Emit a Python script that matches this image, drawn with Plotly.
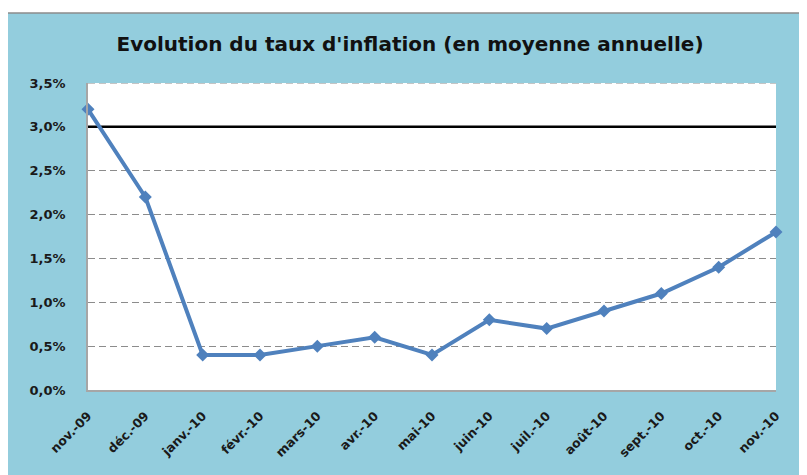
import plotly.graph_objects as go

months = ["nov.-09", "déc.-09", "janv.-10", "févr.-10", "mars-10", "avr.-10", "mai-10",
          "juin-10", "juil.-10", "août-10", "sept.-10", "oct.-10", "nov.-10"]
inflation = [3.2, 2.2, 0.4, 0.4, 0.5, 0.6, 0.4, 0.8, 0.7, 0.9, 1.1, 1.4, 1.8]
target = [3.0] * len(months)
y_tick_values = [0.0, 0.5, 1.0, 1.5, 2.0, 2.5, 3.0, 3.5]
y_tick_labels = ["0,0%", "0,5%", "1,0%", "1,5%", "2,0%", "2,5%", "3,0%", "3,5%"]
title_text = "Evolution du taux d'inflation (en moyenne annuelle)"

# the page body has an 8px default margin, so the figure is sized to fill the rest
OFF = 8
W, H = 807 - OFF, 475 - OFF
ML, MR, MT, MB = 88 - OFF, 31, 83 - OFF, 85
pw, ph = W - ML - MR, H - MT - MB

def px_x(p):
    return (p - OFF - ML) / pw

def px_y(p):
    return (H + OFF - MB - p) / ph

blue = "#93CDDD"
grid_dash = "7px,4px"
fig = go.Figure()

fig.add_trace(go.Scatter(
    x=months, y=target, mode="lines",
    line=dict(color="black", width=2.5),
    hoverinfo="skip", showlegend=False, cliponaxis=False,
))
fig.add_trace(go.Scatter(
    x=months, y=inflation, mode="lines+markers",
    line=dict(color="#4F81BD", width=4),
    marker=dict(symbol="diamond", size=10, color="#4F81BD"),
    showlegend=False, cliponaxis=False,
))

fig.add_shape(type="rect", xref="paper", yref="paper",
              x0=px_x(7), x1=px_x(812), y0=px_y(480), y1=px_y(13),
              fillcolor=blue, line=dict(color="#8C8C8C", width=1.5), layer="below")
fig.add_shape(type="rect", xref="x domain", yref="y domain",
              x0=0, x1=1, y0=0, y1=1,
              fillcolor="white", line=dict(width=0), layer="below")
# top gridline (3,5%) drawn at the edge of the plot area
fig.add_shape(type="line", xref="x domain", yref="y",
              x0=0, x1=1, y0=y_tick_values[-1], y1=y_tick_values[-1],
              line=dict(color="#8C8C8C", width=1.2, dash=grid_dash))

x_font = dict(family="DejaVu Sans", size=12.5, color="#1A1A1A", weight="bold")
y_font = dict(family="DejaVu Sans", size=13, color="#1A1A1A", weight="bold")

fig.update_layout(
    width=W, height=H,
    margin=dict(l=ML, r=MR, t=MT, b=MB),
    paper_bgcolor="white",
    plot_bgcolor="rgba(0,0,0,0)",
    title=dict(text=title_text, x=(410 - OFF) / W, xanchor="center",
               y=1 - (44 - OFF) / H, yanchor="middle",
               font=dict(family="DejaVu Sans", size=20, color="#111111", weight="bold")),
    xaxis=dict(
        type="category", range=[0, len(months) - 1], automargin=False,
        showgrid=False, zeroline=False,
        showline=True, linecolor="#A6A6A6", linewidth=1.5,
        tickangle=-45, tickfont=x_font, ticks="", ticklen=0,
        ticklabelstandoff=12,
    ),
    yaxis=dict(
        range=[0, 3.5], tickvals=y_tick_values, ticktext=y_tick_labels, automargin=False,
        showgrid=True, gridcolor="#8C8C8C", gridwidth=1.2, griddash=grid_dash,
        zeroline=False, showline=True, linecolor="#A6A6A6", linewidth=1.5,
        tickfont=y_font, ticks="", ticklabelstandoff=18,
    ),
)

fig.write_html("out.html")
